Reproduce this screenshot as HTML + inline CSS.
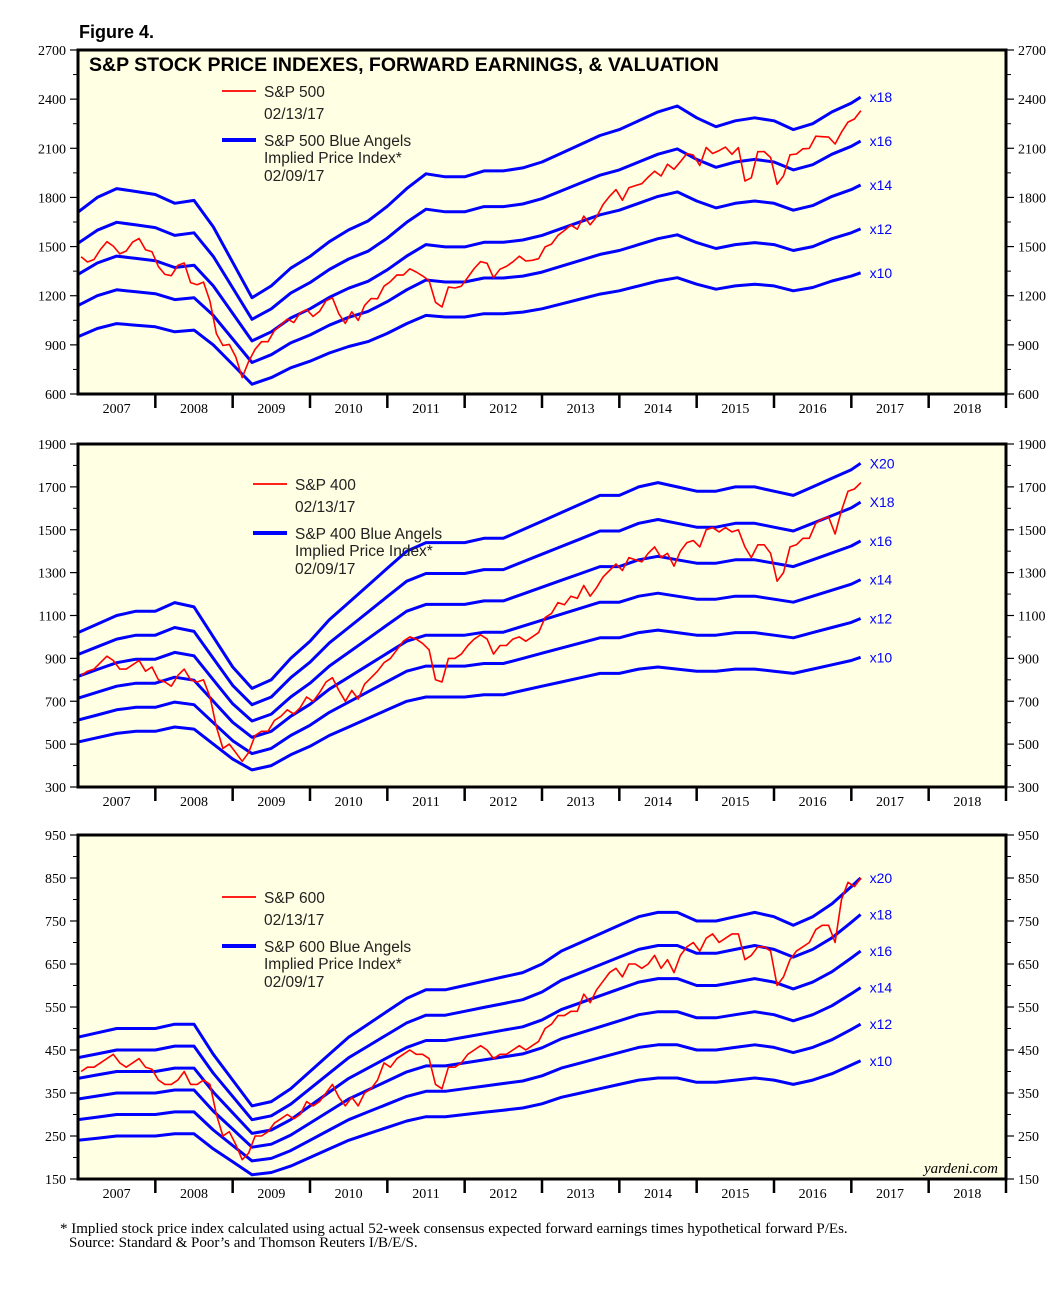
<!DOCTYPE html>
<html><head><meta charset="utf-8"><style>
body{margin:0;background:#fff;}
svg{display:block;font-family:"Liberation Sans",sans-serif;}
.tk{font-family:"Liberation Serif",serif;font-size:14px;}
</style></head><body>
<svg id="c" width="1064" height="1297" viewBox="0 0 1064 1297">
<text x="79" y="38" font-size="18" font-weight="bold">Figure 4.</text>
<text x="60" y="1233" font-family="Liberation Serif,serif" font-size="15">* Implied stock price index calculated using actual 52-week consensus expected forward earnings times hypothetical forward P/Es.</text>
<text x="69" y="1247" font-family="Liberation Serif,serif" font-size="15">Source: Standard &amp; Poor’s and Thomson Reuters I/B/E/S.</text>
</svg>
<script>
const years=["2007","2008","2009","2010","2011","2012","2013","2014","2015","2016","2017","2018"];
const sp500Price=[1438,1406,1421,1482,1530,1503,1455,1473,1527,1549,1481,1468,1378,1330,1322,1385,1400,1280,1267,1283,1166,969,896,903,826,700,798,873,919,919,987,1021,1057,1036,1096,1115,1074,1104,1169,1187,1089,1031,1102,1049,1141,1183,1181,1258,1286,1327,1326,1364,1345,1321,1292,1160,1131,1253,1247,1258,1312,1366,1408,1398,1310,1362,1379,1407,1441,1412,1416,1426,1498,1515,1569,1598,1631,1606,1686,1633,1682,1757,1806,1848,1783,1859,1872,1884,1924,1960,1931,2003,1972,2018,2068,2059,1995,2105,2068,2086,2107,2063,2104,1900,1920,2079,2080,2044,1880,1932,2060,2065,2097,2099,2174,2171,2168,2126,2199,2260,2279,2330];
const sp500Eps=[95,100,103,102,101,98,99,90,78,66,70,76,80,85,89,92,97,103,108,107,107,109,109,110,112,115,118,121,123,126,129,131,127,124,126,127,126,123,125,129,132,134];
const sp500Pe=[10,12,14,16,18];
const sp400Price=[820,840,850,880,910,890,850,850,870,890,840,860,800,790,770,820,850,800,790,800,720,580,480,500,460,420,460,540,560,560,610,630,660,640,670,720,700,740,790,810,750,700,750,710,780,810,840,880,900,940,980,1000,990,970,940,800,790,900,900,920,960,990,1010,990,920,960,960,990,1000,980,1000,1020,1090,1110,1160,1150,1190,1180,1240,1190,1230,1280,1310,1340,1310,1370,1360,1350,1390,1420,1370,1390,1330,1400,1440,1450,1420,1500,1510,1490,1510,1490,1500,1420,1370,1430,1430,1390,1260,1300,1420,1430,1460,1460,1530,1550,1560,1480,1590,1680,1690,1720];
const sp400Eps=[51,53,55,56,56,58,57,50,43,38,40,45,49,54,58,62,66,70,72,72,72,73,73,75,77,79,81,83,83,85,86,85,84,84,85,85,84,83,85,87,89,90.5];
const sp400Pe=[10,12,14,16,18,20];
const sp600Price=[400,410,410,420,430,440,420,410,420,430,410,405,380,370,370,380,400,370,370,380,370,300,250,260,230,195,210,250,250,260,280,290,300,290,300,330,320,330,350,370,340,320,340,320,350,360,380,420,410,430,440,450,440,440,430,370,360,410,410,420,440,450,460,450,430,440,440,450,460,450,460,470,500,510,530,530,540,540,580,560,590,610,630,640,620,650,650,640,650,670,640,660,630,670,690,700,680,710,720,700,710,720,720,660,670,690,690,680,600,620,660,680,690,700,730,740,740,700,800,840,830,850];
const sp600Eps=[24,24.5,25,25,25,25.5,25.5,22,19,16,16.5,18,20,22,24,25.5,27,28.5,29.5,29.5,30,30.5,31,31.5,32.5,34,35,36,37,38,38.5,38.5,37.5,37.5,38,38.5,38,37,38,39.5,41.5,42.5];
const sp600Pe=[10,12,14,16,18,20];
const ticks500=[600,900,1200,1500,1800,2100,2400,2700];
const ticks400=[300,500,700,900,1100,1300,1500,1700,1900];
const ticks600=[150,250,350,450,550,650,750,850,950];

const NS="http://www.w3.org/2000/svg";
const svg=document.getElementById('c');
const X0=78,X1=1006;
function xs(t){return X0+(t-2007)/12*(X1-X0);}
function mk(tag,at,parent){const e=document.createElementNS(NS,tag);for(const k in at)e.setAttribute(k,at[k]);(parent||svg).appendChild(e);return e;}
function epsT(i,n){return i===n-1?2017.12:2007+i*0.25;}
function priceT(i){return 2007+i/12+0.04;}

function panel(o){
  const g=mk('g',{});
  
  
  const lo=o.ticks[0],hi=o.ticks[o.ticks.length-1];
  const ys=v=>o.bot-(v-lo)/(hi-lo)*(o.bot-o.top);
  const bg=mk('rect',{x:X0,y:o.top,width:X1-X0,height:o.bot-o.top,fill:'#ffffe3'},g);
  
  
  const cid='clip'+o.name;
  const cp=mk('clipPath',{id:cid},g);mk('rect',{x:X0,y:o.top,width:X1-X0,height:o.bot-o.top},cp);
  const step=o.ticks[1]-o.ticks[0];
  o.ticks.forEach((v,i)=>{
    const y=ys(v);
    [[X0-8,X0],[X1,X1+8]].forEach(s=>mk('line',{x1:s[0],x2:s[1],y1:y,y2:y,stroke:'#000','stroke-width':1.2},g));
    const l=mk('text',{x:X0-12,y:y+5,'text-anchor':'end',class:'tk'},g);l.textContent=v;
    
    
    const r=mk('text',{x:X1+12,y:y+5,class:'tk'},g);r.textContent=v;
    
    
    if(i<o.ticks.length-1){const ym=ys(v+step/2);
      [[X0-5,X0],[X1,X1+5]].forEach(s=>mk('line',{x1:s[0],x2:s[1],y1:ym,y2:ym,stroke:'#000','stroke-width':1},g));}
  });
  years.forEach((yr,i)=>{
    const xa=xs(2007+i),xb=xs(2008+i);
    mk('line',{x1:xb,x2:xb,y1:o.bot,y2:o.bot+14,stroke:'#000','stroke-width':2.5},g);
    const t=mk('text',{x:(xa+xb)/2,y:o.bot+19,'text-anchor':'middle',class:'tk'},g);t.textContent=yr;
    
    
  });
  const cg=mk('g',{'clip-path':'url(#'+cid+')'},g);
  o.pe.forEach((m,k)=>{
    const pts=o.eps.map((e,i)=>xs(epsT(i,o.eps.length)).toFixed(1)+','+ys(e*m).toFixed(1)).join(' ');
    const pl=mk('polyline',{points:pts,fill:'none',stroke:'#0000ff','stroke-width':3,'stroke-linejoin':'round'},cg);
    
    
    const last=o.eps[o.eps.length-1]*m;
    const lb=mk('text',{x:xs(2017.12)+9,y:ys(last)+5,fill:'#0000ff','font-size':14},g);
    lb.textContent=(o.capLabels&&o.capLabels.includes(m)?'X':'x')+m;
    
    
  });
  const rp=o.price.map((v,i)=>xs(priceT(i)).toFixed(1)+','+ys(v).toFixed(1)).join(' ');
  const red=mk('polyline',{points:rp,fill:'none',stroke:'#ff0000','stroke-width':1.6,'stroke-linejoin':'round'},cg);
  
  
  mk('rect',{x:X0,y:o.top,width:X1-X0,height:o.bot-o.top,fill:'none',stroke:'#000','stroke-width':3},g);
  const L=o.leg;
  const lg=mk('g',{},g);
  
  
  mk('line',{x1:L.x,x2:L.x+34,y1:L.y-6,y2:L.y-6,stroke:'#ff0000','stroke-width':1.8},lg);
  mk('line',{x1:L.x,x2:L.x+34,y1:L.y+43,y2:L.y+43,stroke:'#0000ff','stroke-width':4},lg);
  [[o.label,0],['02/13/17',22],[o.label+' Blue Angels',49],['Implied Price Index*',66],['02/09/17',84]].forEach(a=>{
    const t=mk('text',{x:L.x+42,y:L.y+a[1],'font-size':15.5,fill:'#222'},lg);t.textContent=a[0];
  });
  if(o.title){const t=mk('text',{x:89,y:71,'font-size':19.5,'font-weight':'bold'},g);t.textContent=o.title;
    
    }
  if(o.credit){const t=mk('text',{x:998,y:1173,'text-anchor':'end','font-family':'Liberation Serif,serif','font-style':'italic','font-size':15},g);t.textContent=o.credit;
    
    }
}
panel({name:'sp500',label:'S&P 500',top:50,bot:394,ticks:ticks500,price:sp500Price,eps:sp500Eps,pe:sp500Pe,leg:{x:222,y:97},title:'S&P STOCK PRICE INDEXES, FORWARD EARNINGS, & VALUATION'});
panel({name:'sp400',label:'S&P 400',top:444,bot:787,ticks:ticks400,price:sp400Price,eps:sp400Eps,pe:sp400Pe,leg:{x:253,y:490},capLabels:[20,18]});
panel({name:'sp600',label:'S&P 600',top:835,bot:1179,ticks:ticks600,price:sp600Price,eps:sp600Eps,pe:sp600Pe,leg:{x:222,y:903},credit:'yardeni.com'});
</script>
</body></html>
